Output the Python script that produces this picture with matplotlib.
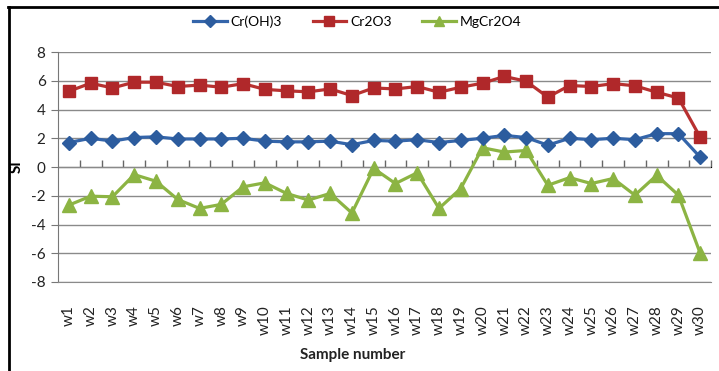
import matplotlib
matplotlib.use("Agg")
import matplotlib.pyplot as plt
from matplotlib.lines import Line2D

plt.rcParams['font.family'] = ['Lato', 'DejaVu Sans']

samples = [f"w{i}" for i in range(1, 31)]

cr_oh3 = [1.70, 2.00, 1.80, 2.05, 2.10, 1.95, 1.95, 1.95, 2.00, 1.80,
          1.75, 1.75, 1.80, 1.55, 1.85, 1.80, 1.90, 1.70, 1.85, 2.00,
          2.20, 2.05, 1.52, 2.00, 1.90, 2.00, 1.90, 2.32, 2.32, 0.68]

cr2o3 = [5.27, 5.83, 5.50, 5.90, 5.90, 5.60, 5.70, 5.55, 5.80, 5.40,
         5.30, 5.23, 5.43, 4.97, 5.50, 5.43, 5.60, 5.20, 5.55, 5.83,
         6.30, 5.97, 4.86, 5.67, 5.60, 5.80, 5.65, 5.20, 4.80, 2.07]

mgcr2o4 = [-2.65, -2.03, -2.07, -0.53, -0.99, -2.26, -2.88, -2.60, -1.38, -1.10,
           -1.84, -2.30, -1.84, -3.20, -0.10, -1.15, -0.40, -2.88, -1.50, 1.34,
           1.04, 1.15, -1.27, -0.74, -1.15, -0.80, -1.96, -0.58, -1.96, -6.00]

y_ticks = [-8, -6, -4, -2, 0, 2, 4, 6, 8]

fig = plt.figure(figsize=(7.19, 3.71), dpi=100)
ax = fig.add_axes([0.0807, 0.2399, 0.9083, 0.6199])

x = list(range(len(samples)))
ax.plot(x, cr_oh3, color='#3465AA', lw=2.3, marker='D', ms=7.5,
        mfc='#2C5C9E', mec='#2C5C9E', label='Cr(OH)3', zorder=4)
ax.plot(x, cr2o3, color='#B83130', lw=2.3, marker='s', ms=9,
        mfc='#B0282A', mec='#B0282A', label='Cr2O3', zorder=3)
ax.plot(x, mgcr2o4, color='#8CB443', lw=2.3, marker='^', ms=9.5,
        mfc='#8CB443', mec='#8CB443', label='MgCr2O4', zorder=3)

ax.set_xlim(-0.5, len(samples) - 0.5)
ax.set_ylim(-8, 8)
ax.set_yticks(y_ticks)
ax.set_yticklabels([str(v) for v in y_ticks], fontsize=11, color='#222222')
ax.yaxis.grid(True, color='#8a8a8a', lw=1.0)
ax.set_axisbelow(True)

for side in ['top', 'right']:
    ax.spines[side].set_visible(False)
ax.spines['left'].set_color('#777777')
ax.spines['bottom'].set_color('#8a8a8a')
ax.tick_params(axis='y', length=5, color='#777777', pad=4)

ax.set_xticks(x)
ax.set_xticklabels(samples, rotation=90, fontsize=11, color='#222222',
                   va='top')
ax.tick_params(axis='x', length=0, pad=17)

# category axis crossing at zero, with tick marks between categories
zero_axis = ax.secondary_xaxis(0.5)
zero_axis.set_xticks([k - 0.5 for k in range(1, len(samples) + 1)])
zero_axis.set_xticklabels([])
zero_axis.tick_params(axis='x', direction='out', length=5, color='#666666',
                      width=1.0)
zero_axis.spines['bottom'].set_color('#555555')
zero_axis.spines['bottom'].set_linewidth(1.3)

ax.set_ylabel('SI', fontsize=11, fontweight='bold', labelpad=5)
fig.text(353 / 719, 1 - 355 / 371, 'Sample number', fontsize=11,
         fontweight='bold', ha='center', va='center', color='#222222')

fig.legend(loc='center', bbox_to_anchor=(0.497, 1 - 22 / 371), ncol=3,
           frameon=False, fontsize=10, handlelength=2.4, columnspacing=2.2,
           handletextpad=0.3, markerscale=0.8)

# outer frame (top and left edges)
fig.add_artist(Line2D([8 / 719, 1.0], [1 - 7 / 371, 1 - 7 / 371],
                      transform=fig.transFigure, color='black', lw=2))
fig.add_artist(Line2D([9 / 719, 9 / 719], [0.0, 1 - 7 / 371],
                      transform=fig.transFigure, color='black', lw=2))

fig.savefig('out.png', dpi=100)
